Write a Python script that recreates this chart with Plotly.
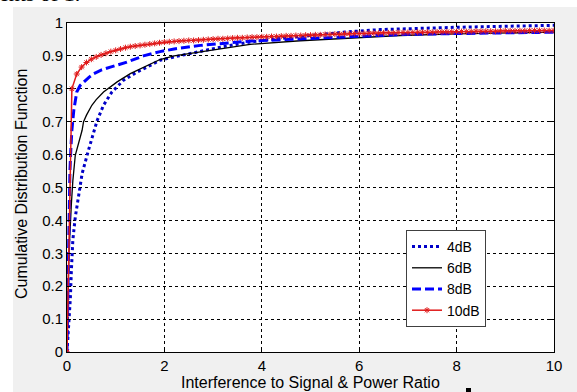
import plotly.graph_objects as go

# ---------------- data ----------------
x_4db = [0, 0.03, 0.07, 0.09, 0.12, 0.17, 0.24, 0.31, 0.44, 0.51, 0.62, 0.75, 0.92, 1.16, 1.44,
         1.71, 1.91, 2.3, 2.74, 3.2, 3.76, 4.3, 5.0, 5.75, 6.43, 7.0, 8.0, 9.0, 10.0]
y_4db = [0, 0.066, 0.167, 0.248, 0.34, 0.41, 0.48, 0.542, 0.613, 0.649, 0.704, 0.75, 0.79, 0.826, 0.851,
         0.871, 0.887, 0.900, 0.914, 0.928, 0.942, 0.952, 0.962, 0.973, 0.980, 0.983, 0.987, 0.990, 0.993]

x_6db = [0, 0.04, 0.09, 0.12, 0.17, 0.25, 0.31, 0.34, 0.4, 0.51, 0.6, 0.75, 0.9, 1.03, 1.3, 1.64,
         1.91, 2.2, 2.74, 3.2, 3.76, 4.79, 5.81, 6.84, 8.0, 9.0, 10.0]
y_6db = [0, 0.30, 0.45, 0.52, 0.598, 0.643, 0.674, 0.70, 0.72, 0.750, 0.767, 0.790, 0.807, 0.821, 0.846, 0.871,
         0.889, 0.900, 0.912, 0.924, 0.935, 0.946, 0.954, 0.962, 0.967, 0.970, 0.972]

x_8db = [0, 0.03, 0.06, 0.08, 0.10, 0.14, 0.2, 0.27, 0.34, 0.45, 0.55, 0.7, 0.89, 1.23, 1.57, 1.91,
         2.2, 2.74, 3.76, 4.79, 5.81, 6.84, 8.0, 9.0, 10.0]
y_8db = [0, 0.35, 0.55, 0.62, 0.674, 0.735, 0.79, 0.81, 0.821, 0.835, 0.846, 0.857, 0.866, 0.881, 0.900, 0.913,
         0.921, 0.932, 0.945, 0.952, 0.959, 0.965, 0.968, 0.970, 0.972]

x_10db = [0.0, 0.1, 0.2, 0.3, 0.4, 0.5, 0.6, 0.7, 0.8, 0.9,
          1.0, 1.1, 1.2, 1.3, 1.4, 1.5, 1.6, 1.7, 1.8, 1.9,
          2.0, 2.1, 2.2, 2.3, 2.4, 2.5, 2.6, 2.7, 2.8, 2.9,
          3.0, 3.1, 3.2, 3.3, 3.4, 3.5, 3.6, 3.7, 3.8, 3.9,
          4.0, 4.1, 4.2, 4.3, 4.4, 4.5, 4.6, 4.7, 4.8, 4.9,
          5.0, 5.1, 5.2, 5.3, 5.4, 5.5, 5.6, 5.7, 5.8, 5.9,
          6.0, 6.1, 6.2, 6.3, 6.4, 6.5, 6.6, 6.7, 6.8, 6.9,
          7.0, 7.1, 7.2, 7.3, 7.4, 7.5, 7.6, 7.7, 7.8, 7.9,
          8.0, 8.1, 8.2, 8.3, 8.4, 8.5, 8.6, 8.7, 8.8, 8.9,
          9.0, 9.1, 9.2, 9.3, 9.4, 9.5, 9.6, 9.7, 9.8, 9.9,
          10.0]
y_10db = [0.000, 0.800, 0.845, 0.866, 0.880, 0.890, 0.897, 0.903, 0.908, 0.913,
          0.917, 0.921, 0.925, 0.928, 0.930, 0.932, 0.934, 0.936, 0.938, 0.940,
          0.942, 0.943, 0.944, 0.945, 0.946, 0.947, 0.947, 0.948, 0.949, 0.950,
          0.951, 0.952, 0.952, 0.953, 0.954, 0.955, 0.955, 0.956, 0.957, 0.957,
          0.958, 0.958, 0.959, 0.959, 0.960, 0.961, 0.961, 0.962, 0.962, 0.963,
          0.963, 0.964, 0.964, 0.965, 0.965, 0.966, 0.966, 0.967, 0.967, 0.968,
          0.968, 0.968, 0.969, 0.969, 0.969, 0.970, 0.970, 0.970, 0.971, 0.971,
          0.971, 0.971, 0.972, 0.972, 0.972, 0.972, 0.973, 0.973, 0.973, 0.973,
          0.974, 0.974, 0.974, 0.974, 0.975, 0.975, 0.975, 0.975, 0.975, 0.976,
          0.976, 0.976, 0.976, 0.976, 0.976, 0.977, 0.977, 0.977, 0.977, 0.977,
          0.977]

series_names = ["4dB", "6dB", "8dB", "10dB"]
x_ticks = [0, 2, 4, 6, 8, 10]
y_ticks = [0, 0.1, 0.2, 0.3, 0.4, 0.5, 0.6, 0.7, 0.8, 0.9, 1]
y_tick_text = ["0", "0.1", "0.2", "0.3", "0.4", "0.5", "0.6", "0.7", "0.8", "0.9", "1"]
x_title = "Interference to Signal & Power Ratio"
y_title = "Cumulative Distribution Function"
top_text = "ents of 1."

# ---------------- figure ----------------
W, H = 577, 392
L, R, T, B = 67, 23, 23, 40
pw, ph = W - L - R, H - T - B

def px_x(px):
    return (px - L) / pw

def px_y(py):
    return (H - B - py) / ph

FONT = "Liberation Sans, Arial, sans-serif"

fig = go.Figure()
fig.add_trace(go.Scatter(x=x_4db, y=y_4db, mode="lines", name=series_names[0],
                         line=dict(color="#0000c8", width=3, dash="dot")))
fig.add_trace(go.Scatter(x=x_6db, y=y_6db, mode="lines", name=series_names[1],
                         line=dict(color="black", width=1.3)))
fig.add_trace(go.Scatter(x=x_8db, y=y_8db, mode="lines", name=series_names[2],
                         line=dict(color="#0000ff", width=3, dash="9px,4px")))
fig.add_trace(go.Scatter(x=x_10db, y=y_10db, mode="lines+markers", name=series_names[3],
                         line=dict(color="#e01a1a", width=1.5),
                         marker=dict(symbol="asterisk", size=5, color="#e01a1a",
                                     line=dict(color="#e01a1a", width=1))))

axis_common = dict(showline=True, linecolor="black", linewidth=1, mirror="ticks",
                   ticks="inside", ticklen=4, tickcolor="black", zeroline=False,
                   showgrid=True, gridcolor="black", gridwidth=1, griddash="dot",
                   tickfont=dict(family=FONT, size=15, color="black"))

fig.update_xaxes(range=[0, 10], tickvals=x_ticks, ticktext=[str(v) for v in x_ticks], **axis_common)
fig.update_yaxes(range=[0, 1], tickvals=y_ticks, ticktext=y_tick_text, **axis_common)

shapes = [
    # grey figure background
    dict(type="rect", xref="paper", yref="paper", x0=px_x(13), x1=px_x(W + 5),
         y0=px_y(H + 5), y1=px_y(7), fillcolor="#f0f0f0", line=dict(width=0), layer="below"),
    # white plot area
    dict(type="rect", xref="paper", yref="paper", x0=0, x1=1, y0=0, y1=1,
         fillcolor="white", line=dict(width=0), layer="below"),
    # small black mark at bottom
    dict(type="rect", xref="paper", yref="paper", x0=px_x(466), x1=px_x(471),
         y0=px_y(393), y1=px_y(388), fillcolor="black", line=dict(width=0)),
]

annotations = [
    dict(text=x_title, xref="paper", yref="paper", x=0.5, y=px_y(382), showarrow=False,
         xanchor="center", yanchor="middle", font=dict(family=FONT, size=16, color="black")),
    dict(text=y_title, xref="paper", yref="paper", x=px_x(21), y=px_y(184), showarrow=False,
         textangle=-90, xanchor="center", yanchor="middle", font=dict(family=FONT, size=16, color="black")),
    dict(text=top_text, xref="paper", yref="paper", x=px_x(-3), y=px_y(7.5), showarrow=False,
         xanchor="left", yanchor="bottom",
         font=dict(family="Liberation Serif, Times New Roman, serif", size=22, color="black")),
]

fig.update_layout(
    width=W, height=H,
    margin=dict(l=L, r=R, t=T, b=B, pad=0),
    paper_bgcolor="white", plot_bgcolor="rgba(0,0,0,0)",
    shapes=shapes, annotations=annotations,
    showlegend=True,
    legend=dict(x=px_x(406), y=px_y(230), xanchor="left", yanchor="top",
                bgcolor="white", bordercolor="#404040", borderwidth=1,
                font=dict(family=FONT, size=14, color="black"),
                tracegroupgap=0, itemwidth=30),
)

fig.write_html("out.html")
